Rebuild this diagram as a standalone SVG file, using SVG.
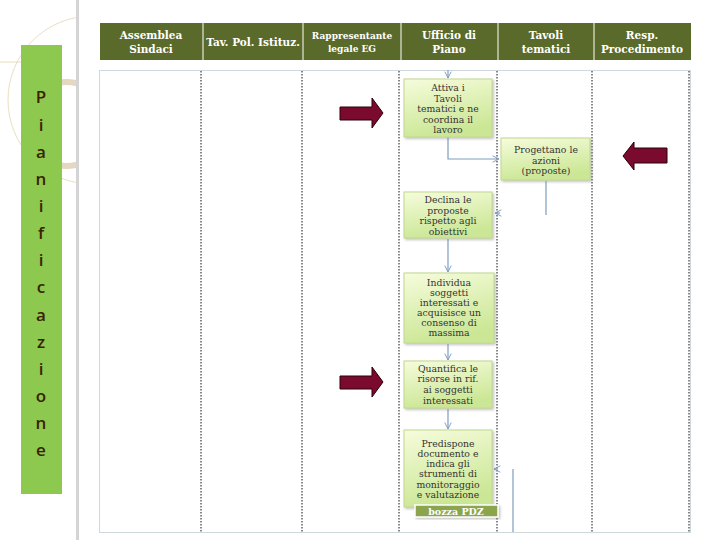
<svg xmlns="http://www.w3.org/2000/svg" width="720" height="540" viewBox="0 0 720 540">
  <defs>
    <linearGradient id="boxg" x1="0" y1="0" x2="0.3" y2="1">
      <stop offset="0" stop-color="#f6fcdc"/>
      <stop offset="1" stop-color="#cbe795"/>
    </linearGradient>
    <filter id="sh" x="-10%" y="-10%" width="130%" height="130%">
      <feDropShadow dx="1.5" dy="1.5" stdDeviation="1.2" flood-color="#888" flood-opacity="0.5"/>
    </filter>
    <clipPath id="leftclip"><rect x="0" y="0" width="76" height="540"/></clipPath>
    <marker id="ah" viewBox="0 0 10 10" refX="9" refY="5" markerWidth="8" markerHeight="8" orient="auto" markerUnits="userSpaceOnUse">
      <path d="M1,1 L9,5 L1,9" fill="none" stroke="#7f9cbf" stroke-width="1.2"/>
    </marker>
  </defs>
  <style>
    .hd { font-family: "DejaVu Serif", "Liberation Serif", serif; font-weight: bold; fill: #ffffff; text-anchor: middle; font-size: 10.5px; }
    .box { fill: url(#boxg); stroke: #c2d88e; stroke-width: 1; filter: url(#sh); }
    .nt { font-family: "DejaVu Serif", "Liberation Serif", serif; fill: #333333; text-anchor: middle; font-size: 9.3px; }
    .dot { stroke: #111; stroke-width: 1; stroke-dasharray: 1.5 1.5; }
    .con { fill: none; stroke: #7f9cbf; stroke-width: 1.2; }
    .red { fill: #7a0b2e; stroke: #2a0008; stroke-width: 1; }
    .lt { font-family: "Open Sans", "DejaVu Sans", sans-serif; font-weight: 600; fill: #3a2200; font-size: 17px; text-anchor: middle; }
  </style>
  <rect width="720" height="540" fill="#ffffff"/>

  <!-- decorative background top-left -->
  <g id="decor">
    <g clip-path="url(#leftclip)">
      <circle cx="92" cy="100" r="84" fill="none" stroke="#e3d5b0" stroke-width="0.8"/>
      <circle cx="66" cy="124" r="42" fill="none" stroke="#e4d9c0" stroke-width="6"/>
      <path d="M0,62 L22,62" stroke="#e3d5b0" stroke-width="0.8"/>
    </g>
    <rect x="76" y="0" width="3" height="540" fill="#d4d4d4"/>
  </g>

  <!-- left vertical label -->
  <g id="side-label">
    <rect x="21" y="45" width="41" height="449" fill="#8dc84f"/>
    <text class="lt" x="41" y="103">P</text>
    <text class="lt" x="41" y="131">i</text>
    <text class="lt" x="41" y="158">a</text>
    <text class="lt" x="41" y="185">n</text>
    <text class="lt" x="41" y="212">i</text>
    <text class="lt" x="41" y="239">f</text>
    <text class="lt" x="41" y="266">i</text>
    <text class="lt" x="41" y="293">c</text>
    <text class="lt" x="41" y="321">a</text>
    <text class="lt" x="41" y="348">z</text>
    <text class="lt" x="41" y="375">i</text>
    <text class="lt" x="41" y="402">o</text>
    <text class="lt" x="41" y="429">n</text>
    <text class="lt" x="41" y="456">e</text>
  </g>

  <!-- header -->
  <g id="header">
    <rect x="100" y="23" width="591" height="37" fill="#5a6a2a"/>
    <g stroke="#ffffff" stroke-width="1">
      <line x1="203" y1="23" x2="203" y2="60"/>
      <line x1="303" y1="23" x2="303" y2="60"/>
      <line x1="401" y1="23" x2="401" y2="60"/>
      <line x1="498" y1="23" x2="498" y2="60"/>
      <line x1="594" y1="23" x2="594" y2="60"/>
    </g>
    <text class="hd" x="151" y="39">Assemblea</text>
    <text class="hd" x="151" y="53">Sindaci</text>
    <text class="hd" x="253" y="46">Tav. Pol. Istituz.</text>
    <text class="hd" x="352" y="39" style="font-size:9px">Rappresentante</text>
    <text class="hd" x="352" y="52" style="font-size:9px">legale EG</text>
    <text class="hd" x="449" y="39">Ufficio di</text>
    <text class="hd" x="449" y="53">Piano</text>
    <text class="hd" x="546" y="39">Tavoli</text>
    <text class="hd" x="546" y="53">tematici</text>
    <text class="hd" x="642" y="39">Resp.</text>
    <text class="hd" x="642" y="53">Procedimento</text>
  </g>

  <!-- swimlane body -->
  <g id="lanes">
    <rect x="99.5" y="70.5" width="591" height="462" fill="none" stroke="#cfd8dc" stroke-width="1"/>
    <line class="dot" x1="201" y1="71" x2="201" y2="532"/>
    <line class="dot" x1="302" y1="71" x2="302" y2="532"/>
    <line class="dot" x1="399" y1="71" x2="399" y2="532"/>
    <line class="dot" x1="497" y1="71" x2="497" y2="532"/>
    <line class="dot" x1="592" y1="71" x2="592" y2="532"/>
    <line class="dot" x1="689" y1="71" x2="689" y2="532"/>
  </g>

  <!-- connectors -->
  <g id="connectors">
    <path class="con" d="M448,70 V78" marker-end="url(#ah)"/>
    <path class="con" d="M448,137 V159 H499" marker-end="url(#ah)"/>
    <path class="con" d="M546,181 V215"/>
    <path class="con" d="M500,213 L495,213" marker-end="url(#ah)"/>
    <path class="con" d="M448,239 V272" marker-end="url(#ah)"/>
    <path class="con" d="M448,344 V360" marker-end="url(#ah)"/>
    <path class="con" d="M448,409 V429" marker-end="url(#ah)"/>
    <path class="con" d="M498,469 L494,469" marker-end="url(#ah)"/>
    <path class="con" d="M513,469 V532"/>
  </g>

  <!-- nodes -->
  <g id="n1">
    <rect class="box" x="404" y="79" width="88" height="58"/>
    <text class="nt" x="448" y="91">Attiva i</text>
    <text class="nt" x="448" y="102">Tavoli</text>
    <text class="nt" x="448" y="112">tematici  e ne</text>
    <text class="nt" x="448" y="123">coordina il</text>
    <text class="nt" x="448" y="133">lavoro</text>
  </g>
  <g id="n2">
    <rect class="box" x="501" y="138" width="89" height="42"/>
    <text class="nt" x="546" y="153">Progettano le</text>
    <text class="nt" x="546" y="164">azioni</text>
    <text class="nt" x="546" y="174">(proposte)</text>
  </g>
  <g id="n3">
    <rect class="box" x="404" y="192" width="88" height="46"/>
    <text class="nt" x="448" y="203">Declina le</text>
    <text class="nt" x="448" y="213.5">proposte</text>
    <text class="nt" x="448" y="224">rispetto agli</text>
    <text class="nt" x="448" y="234.5">obiettivi</text>
  </g>
  <g id="n4">
    <rect class="box" x="404" y="273" width="90" height="70"/>
    <text class="nt" x="449" y="286">Individua</text>
    <text class="nt" x="449" y="296">soggetti</text>
    <text class="nt" x="449" y="306">interessati e</text>
    <text class="nt" x="449" y="316">acquisisce un</text>
    <text class="nt" x="449" y="326">consenso di</text>
    <text class="nt" x="449" y="336">massima</text>
  </g>
  <g id="n5">
    <rect class="box" x="404" y="361" width="88" height="47"/>
    <text class="nt" x="448" y="372">Quantifica le</text>
    <text class="nt" x="448" y="382">risorse in rif.</text>
    <text class="nt" x="448" y="393">ai soggetti</text>
    <text class="nt" x="448" y="404">interessati</text>
  </g>
  <g id="n6">
    <rect class="box" x="404" y="430" width="88" height="77"/>
    <text class="nt" x="448" y="447">Predispone</text>
    <text class="nt" x="448" y="457">documento e</text>
    <text class="nt" x="448" y="467">indica gli</text>
    <text class="nt" x="448" y="477">strumenti di</text>
    <text class="nt" x="448" y="488">monitoraggio</text>
    <text class="nt" x="448" y="498">e valutazione</text>
  </g>
  <g id="bozza">
    <rect x="415" y="505" width="83" height="12" fill="#8ba54e" stroke="#ffffff" stroke-width="1.5" filter="url(#sh)"/>
    <text x="456" y="514.5" font-family="DejaVu Serif, Liberation Serif, serif" font-weight="bold" font-size="9.5" fill="#ffffff" text-anchor="middle">bozza PDZ</text>
  </g>

  <!-- red block arrows -->
  <g id="arrow1"><polygon class="red" points="340,107 372,107 372,98 383,113 372,128 372,120 340,120"/></g>
  <g id="arrow2"><polygon class="red" points="667,148 634,148 634,142 623,156 634,170 634,163 667,163"/></g>
  <g id="arrow3"><polygon class="red" points="340,376 372,376 372,367 383,382 372,397 372,389 340,389"/></g>
</svg>
